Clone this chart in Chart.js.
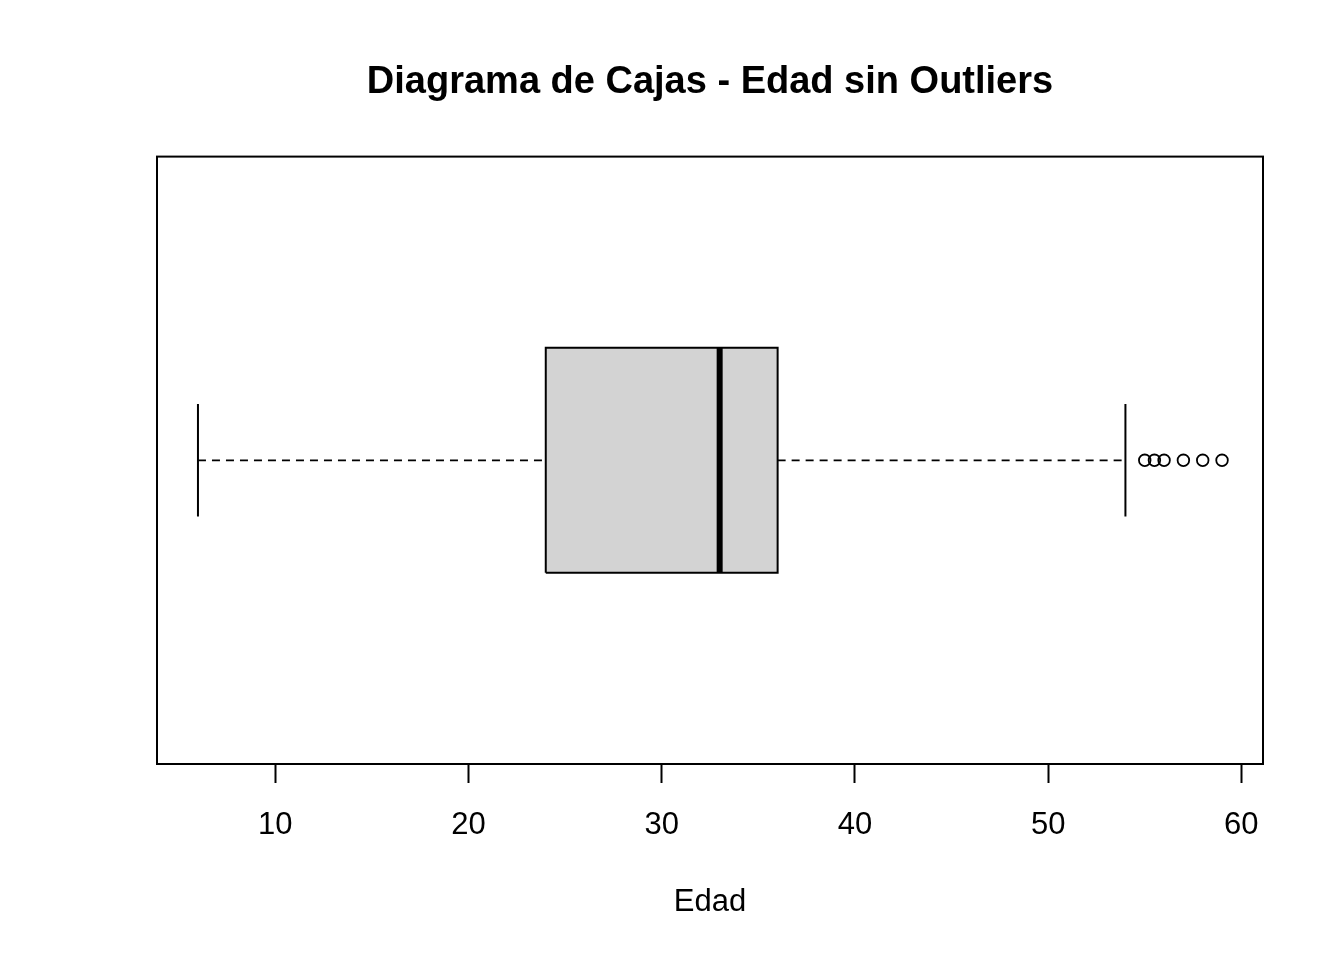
<!DOCTYPE html>
<html>
<head>
<meta charset="utf-8">
<script src="https://cdn.jsdelivr.net/npm/chart.js@4"></script>
<style>
  html, body { margin: 0; padding: 0; background: #fff; }
  #wrap { width: 1344px; height: 960px; }
</style>
</head>
<body>
<div id="wrap"><canvas id="boxChart" width="1344" height="960"></canvas></div>
<script>
// Edad: five-number summary
const whiskerLow = 6;
const q1 = 24;
const median = 33;
const q3 = 36;
const whiskerHigh = 54;
const outliers = [55, 55.5, 56, 57, 58, 59];
const xTicks = [10, 20, 30, 40, 50, 60];

// vertical layout of the single box (R style: group at 1, box width 0.8)
const yCenter = 1;
const boxHalf = 0.2;
const capHalf = 0.1;

// R pads the data range by 4% on each side
const dataMin = Math.min(whiskerLow, ...outliers);
const dataMax = Math.max(whiskerHigh, ...outliers);
const pad = (dataMax - dataMin) * 0.04;

const line = (pts, extra) => Object.assign({
    data: pts,
    showLine: true,
    borderColor: '#000',
    borderWidth: 2,
    pointRadius: 0,
    fill: false,
    order: 0
}, extra || {});

const datasets = [
    // box fill (drawn first, underneath everything)
    line([{x: q1, y: yCenter + boxHalf}, {x: q3, y: yCenter + boxHalf}], {
        borderWidth: 0,
        backgroundColor: '#d3d3d3',
        fill: {value: yCenter - boxHalf},
        order: 10
    }),
    // box outline
    line([
        {x: q1, y: yCenter - boxHalf}, {x: q3, y: yCenter - boxHalf},
        {x: q3, y: yCenter + boxHalf}, {x: q1, y: yCenter + boxHalf},
        {x: q1, y: yCenter - boxHalf}
    ], {order: 2}),
    // median
    line([{x: median, y: yCenter - boxHalf}, {x: median, y: yCenter + boxHalf}], {borderWidth: 6, borderCapStyle: 'butt', order: 1}),
    // whiskers
    line([{x: whiskerLow, y: yCenter}, {x: q1, y: yCenter}], {borderDash: [8, 6], borderWidth: 1.8}),
    line([{x: q3, y: yCenter}, {x: whiskerHigh, y: yCenter}], {borderDash: [8, 6], borderWidth: 1.8}),
    // staples
    line([{x: whiskerLow, y: yCenter - capHalf}, {x: whiskerLow, y: yCenter + capHalf}]),
    line([{x: whiskerHigh, y: yCenter - capHalf}, {x: whiskerHigh, y: yCenter + capHalf}]),
    // outliers
    {
        data: outliers.map(v => ({x: v, y: yCenter})),
        showLine: false,
        pointRadius: 5.8,
        pointBorderWidth: 1.8,
        pointBorderColor: '#000',
        pointBackgroundColor: 'rgba(0,0,0,0)',
        order: 0
    }
];

const frame = {
    id: 'frame',
    afterDraw(chart) {
        const a = chart.chartArea;
        const ctx = chart.ctx;
        ctx.save();
        ctx.strokeStyle = '#000';
        ctx.lineWidth = 2;
        ctx.strokeRect(a.left, a.top, a.right - a.left, a.bottom - a.top);
        ctx.restore();
    }
};

const ctx = document.getElementById('boxChart').getContext('2d');
new Chart(ctx, {
    type: 'scatter',
    data: { datasets: datasets },
    options: {
        responsive: false,
        animation: false,
        events: [],
        layout: { padding: { left: 157, right: 81, top: 0, bottom: 0 } },
        plugins: {
            legend: { display: false },
            tooltip: { enabled: false },
            title: {
                display: true,
                text: 'Diagrama de Cajas - Edad sin Outliers',
                color: '#000',
                font: { family: 'Liberation Sans, Arial, sans-serif', size: 38, weight: 'bold' },
                padding: { top: 60, bottom: 51 }
            }
        },
        scales: {
            x: {
                type: 'linear',
                min: dataMin - pad,
                max: dataMax + pad,
                afterBuildTicks: s => { s.ticks = xTicks.map(v => ({value: v})); },
                afterFit: s => { s.height = 196; },
                border: { display: false },
                grid: {
                    display: true,
                    drawOnChartArea: false,
                    drawTicks: true,
                    tickLength: 19,
                    tickWidth: 2,
                    tickColor: '#000'
                },
                ticks: {
                    color: '#000',
                    padding: 24,
                    maxRotation: 0,
                    autoSkip: false,
                    font: { family: 'Liberation Sans, Arial, sans-serif', size: 31 }
                },
                title: {
                    display: true,
                    text: 'Edad',
                    color: '#000',
                    font: { family: 'Liberation Sans, Arial, sans-serif', size: 31 },
                    padding: { top: 0, bottom: 39 }
                }
            },
            y: {
                type: 'linear',
                display: false,
                min: yCenter - 0.54,
                max: yCenter + 0.54
            }
        }
    },
    plugins: [frame]
});
</script>
</body>
</html>
